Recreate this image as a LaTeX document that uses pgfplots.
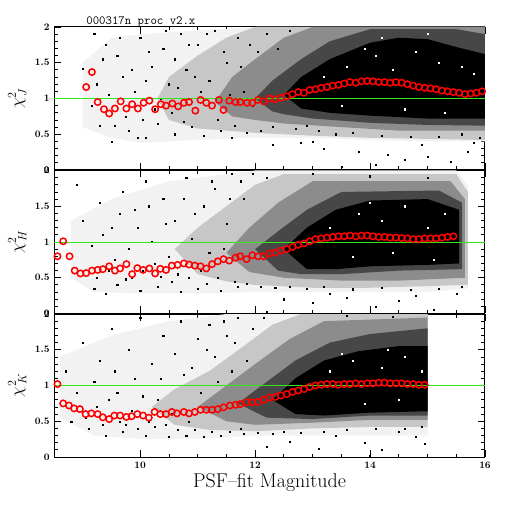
\documentclass[border=0pt]{standalone}
\usepackage{fontspec}
\usepackage{pgfplots}
\pgfplotsset{compat=1.18}
\definecolor{lgreen}{rgb}{0.2,0.9,0.1}
\pgfplotsset{
  panel/.style={
    scale only axis, width=431bp, height=143bp,
    xmin=8.5, xmax=16, ymin=0, ymax=2,
    axis line style={line width=1bp},
    tick style={black, line width=0.8bp},
    major tick length=7bp, minor tick length=3.5bp,
    tick align=inside,
    xtick={10,12,14,16}, minor x tick num=3,
    ytick={0,0.5,1,1.5,2}, minor y tick num=4,
    xtick pos=both, ytick pos=both,
    /pgf/number format/assume math mode=true,
    tick label style={font=\normalsize\bfseries},
    yticklabel style={xshift=-1bp},
    ylabel style={at={(axis description cs:-0.085,0.5)}, anchor=center, font=\LARGE},
    clip mode=individual,
  },
  t1/.style={fill=black!5, draw=none},
  t2/.style={fill=black!22, draw=none},
  t3/.style={fill=black!45, draw=none},
  t4/.style={fill=black!72, draw=none},
  t5/.style={fill=black, draw=none},
  dots/.style={only marks, mark=square*, mark size=0.55bp, black},
  wdots/.style={only marks, mark=square*, mark size=0.55bp, white},
  reds/.style={only marks, mark=o, mark size=3.2bp, red, line width=1.5bp},
  gline/.style={lgreen, line width=0.8bp},
}
\begin{document}
\begin{tikzpicture}
\path[use as bounding box] (0,0) rectangle (512bp,512bp);

% ---------------- top panel (J) ----------------
\begin{axis}[panel, at={(54bp,342bp)}, anchor=south west, xticklabels={}, ylabel={$\chi^2_{\,J}$}]
\addplot[t1] coordinates {(9.0,1.5)(9.5,1.85)(10,1.9)(11,1.95)(12,2.0)(16,2.0)(16,0.4)(15,0.4)(14,0.42)(13,0.45)(12,0.45)(11,0.42)(10,0.38)(9.5,0.45)(9.0,0.6)} --cycle;
\addplot[t2] coordinates {(10.3,1.0)(10.5,1.3)(11,1.6)(11.5,1.85)(12,2.0)(16,2.0)(16,0.42)(14,0.45)(13,0.48)(12,0.52)(11,0.58)(10.5,0.7)} --cycle;
\addplot[t3] coordinates {(11.3,0.95)(11.6,1.3)(12,1.55)(12.5,1.85)(13,2.0)(16,2.0)(16,0.55)(14.5,0.55)(13.5,0.6)(12.5,0.65)(12,0.7)(11.6,0.75)} --cycle;
\addplot[t4] coordinates {(12.0,1.0)(12.3,1.25)(12.8,1.55)(13.3,1.8)(14,1.97)(15.5,1.97)(16,1.9)(16,0.62)(15,0.63)(14,0.66)(13,0.72)(12.5,0.78)(12.3,0.82)} --cycle;
\addplot[t5] coordinates {(12.5,1.05)(12.8,1.3)(13.3,1.55)(14,1.78)(14.5,1.85)(15,1.83)(15.5,1.72)(16,1.62)(16,0.72)(15,0.72)(14,0.76)(13.3,0.8)(12.8,0.86)} --cycle;
\addplot[dots] coordinates {(9.0,1.42)(9.2,1.9)(9.4,1.75)(9.3,0.62)(9.5,0.4)(9.6,1.6)(9.7,1.3)(9.8,0.55)(9.9,1.1)(10.0,1.85)(10.1,0.45)(10.2,1.45)(10.3,0.65)(10.4,1.7)(10.5,1.2)(10.6,0.5)(10.7,1.9)(10.8,1.4)(10.9,0.6)(11.0,1.75)(11.1,0.48)(11.2,1.25)(11.3,1.95)(11.4,0.55)(11.5,1.5)(11.6,0.45)(11.7,1.85)(11.8,1.1)(9.45,1.05)(9.75,0.75)(10.05,0.7)(10.35,1.0)(10.65,1.15)(10.95,1.3)(9.15,0.9)(9.85,1.4)(10.55,0.8)
(9.25,1.2)(9.35,1.55)(9.55,0.62)(9.65,1.85)(9.95,0.45)(10.15,1.65)(10.25,0.85)(10.45,1.95)(10.75,0.68)(10.85,1.75)(11.05,1.1)(11.15,1.9)(11.35,0.7)(11.45,1.65)(11.55,1.05)(11.65,0.62)(11.75,1.45)(11.85,0.52)(11.9,1.75)(11.95,0.9)(12.05,1.65)(12.1,0.55)(12.2,1.9)(12.3,0.6)(12.4,1.7)(12.6,1.95)(12.7,0.58)(12.9,0.62)(13.1,0.55)(13.4,0.5)(13.7,0.52)(14.2,0.48)(14.7,0.46)(15.2,0.47)(15.6,0.5)(15.9,0.45)(10.6,1.55)(10.1,1.25)
(12.3,0.35)(13.2,0.3)(13.8,0.25)(14.3,0.22)(14.6,0.15)(15.0,0.18)(15.4,0.12)(13.5,0.05)(12.8,0.38)(15.7,0.25)(14.1,0.08)(13.0,0.4)(14.9,0.36)(15.8,0.38)};
\addplot[wdots] coordinates {(13.2,1.3)(13.6,1.45)(14.1,1.6)(14.4,1.4)(14.8,1.65)(15.2,1.5)(15.6,1.45)(13.9,1.7)(14.6,0.85)(15.3,0.8)(13.5,0.9)(15.8,1.35)(14.2,1.85)(15.0,1.9)};
\addplot[gline] coordinates {(8.5,1)(16,1)};
\addplot[reds] coordinates {(9.06,1.16)(9.16,1.37)(9.26,0.95)(9.37,0.85)(9.46,0.79)(9.56,0.86)(9.66,0.96)(9.76,0.86)(9.86,0.92)(9.96,0.86)(10.06,0.94)(10.16,0.97)(10.26,0.85)(10.36,0.92)(10.45,0.90)(10.56,0.93)(10.66,0.89)(10.76,0.94)(10.85,0.95)(10.96,0.83)(11.05,0.98)(11.15,0.94)(11.25,0.90)(11.37,0.98)(11.45,0.84)(11.55,0.97)(11.66,0.95)(11.74,0.95)(11.86,0.94)(11.95,0.94)(12.05,0.98)(12.15,0.96)(12.25,1.0)(12.35,0.99)(12.45,1.01)(12.55,1.03)(12.65,1.06)(12.75,1.09)(12.85,1.08)(12.95,1.12)(13.05,1.13)(13.15,1.15)(13.25,1.16)(13.35,1.18)(13.45,1.19)(13.55,1.21)(13.65,1.23)(13.75,1.22)(13.85,1.24)(13.95,1.245)(14.05,1.24)(14.15,1.23)(14.25,1.23)(14.35,1.22)(14.45,1.23)(14.55,1.22)(14.65,1.20)(14.75,1.18)(14.85,1.16)(14.95,1.15)(15.05,1.14)(15.15,1.13)(15.25,1.11)(15.35,1.10)(15.45,1.09)(15.55,1.08)(15.65,1.06)(15.75,1.07)(15.85,1.08)(15.95,1.10)};
\node[anchor=base west] at (axis description cs:0.067,1) [yshift=2bp] {\fontsize{12.5}{13}\selectfont\ttfamily 000317n proc v2.x};
\end{axis}

% ---------------- middle panel (H) ----------------
\begin{axis}[panel, at={(54bp,198.5bp)}, anchor=south west, xticklabels={}, ylabel={$\chi^2_{\,H}$}]
\addplot[t1] coordinates {(8.8,1.3)(9.5,1.6)(10.5,1.85)(11.5,1.95)(12,2.0)(15.5,2.0)(15.7,1.8)(15.7,0.35)(15,0.3)(14,0.3)(13,0.3)(12,0.3)(11,0.28)(10,0.28)(9.2,0.3)(8.8,0.5)} --cycle;
\addplot[t2] coordinates {(10.6,0.9)(11,1.2)(11.5,1.5)(12,1.8)(12.5,1.95)(15.5,1.95)(15.7,1.7)(15.7,0.4)(14,0.36)(13,0.36)(12,0.4)(11.5,0.45)(11,0.55)} --cycle;
\addplot[t3] coordinates {(11.5,0.85)(11.9,1.2)(12.4,1.55)(13,1.85)(15.4,1.85)(15.65,1.6)(15.65,0.5)(14.5,0.46)(13.5,0.46)(12.5,0.5)(11.9,0.58)} --cycle;
\addplot[t4] coordinates {(12.0,0.9)(12.4,1.15)(12.9,1.45)(13.5,1.7)(15.2,1.72)(15.6,1.55)(15.6,0.62)(14.5,0.6)(13.5,0.55)(12.8,0.55)(12.4,0.6)} --cycle;
\addplot[t5] coordinates {(12.5,0.9)(12.9,1.2)(13.4,1.45)(14,1.58)(15,1.6)(15.55,1.45)(15.55,0.7)(15,0.68)(14,0.66)(13.4,0.62)(12.9,0.62)} --cycle;
\addplot[dots] coordinates {(8.9,1.8)(9.0,1.3)(9.2,0.35)(9.3,1.55)(9.4,0.28)(9.5,1.2)(9.6,0.4)(9.7,1.7)(9.8,0.9)(9.9,1.45)(10.0,0.32)(10.1,1.85)(10.2,1.0)(10.3,0.38)(10.4,1.6)(10.5,0.8)(10.6,1.3)(10.7,0.3)(10.8,1.9)(10.9,1.05)(11.0,0.35)(11.1,1.5)(11.2,0.85)(11.3,1.75)(11.4,0.32)(11.5,1.25)(11.6,1.95)(11.7,0.38)(11.8,1.6)(9.15,0.95)(9.55,0.75)(9.85,0.5)(10.25,0.7)(10.65,0.55)(11.05,0.6)(11.45,0.9)
(9.25,0.5)(9.35,1.1)(9.45,0.6)(9.65,1.4)(9.75,0.48)(9.95,1.2)(10.05,0.6)(10.15,1.5)(10.35,0.52)(10.45,1.25)(10.55,0.45)(10.75,1.6)(10.85,0.5)(10.95,1.4)(11.15,0.42)(11.25,1.85)(11.35,0.5)(11.55,1.6)(11.65,0.45)(11.75,1.85)(11.85,0.42)(11.95,1.95)(12.1,0.38)(12.2,1.9)(12.35,0.36)(12.6,0.38)(12.9,0.35)(13.2,0.38)(13.7,0.34)(14.2,0.36)(14.7,0.33)(15.2,0.35)(15.6,0.38)(13.0,1.95)(14.0,1.92)(15.0,1.9)
(12.5,0.2)(13.0,0.15)(13.6,0.22)(14.1,0.1)(14.5,0.18)(15.1,0.05)(13.3,0.28)(12.2,0.02)(14.8,0.25)(15.5,0.28)};
\addplot[wdots] coordinates {(13.3,1.2)(13.8,1.4)(14.2,1.3)(14.6,1.5)(15.0,1.2)(15.3,1.4)(13.7,0.8)(14.4,0.85)(15.1,0.75)(14.0,1.55)};
\addplot[gline] coordinates {(8.5,1)(16,1)};
\addplot[reds] coordinates {(8.56,0.80)(8.66,1.01)(8.77,0.80)(8.86,0.60)(8.96,0.56)(9.06,0.565)(9.16,0.60)(9.26,0.61)(9.35,0.62)(9.46,0.66)(9.56,0.60)(9.65,0.63)(9.76,0.69)(9.86,0.55)(9.95,0.635)(10.05,0.61)(10.16,0.63)(10.26,0.56)(10.35,0.625)(10.45,0.61)(10.55,0.67)(10.65,0.68)(10.76,0.70)(10.85,0.685)(10.95,0.67)(11.05,0.66)(11.15,0.63)(11.25,0.69)(11.35,0.73)(11.45,0.76)(11.55,0.74)(11.66,0.78)(11.74,0.80)(11.85,0.76)(11.95,0.815)(12.05,0.80)(12.15,0.80)(12.25,0.84)(12.35,0.85)(12.45,0.88)(12.55,0.90)(12.65,0.93)(12.75,0.96)(12.85,0.98)(12.95,1.01)(13.05,1.04)(13.15,1.05)(13.25,1.06)(13.35,1.07)(13.45,1.08)(13.55,1.08)(13.65,1.09)(13.75,1.08)(13.85,1.09)(13.95,1.09)(14.05,1.08)(14.15,1.07)(14.25,1.07)(14.35,1.06)(14.45,1.06)(14.55,1.055)(14.65,1.05)(14.75,1.04)(14.85,1.04)(14.95,1.05)(15.05,1.05)(15.15,1.05)(15.25,1.06)(15.35,1.07)(15.45,1.08)};
\end{axis}

% ---------------- bottom panel (K) ----------------
\begin{axis}[panel, at={(54bp,55bp)}, anchor=south west, ylabel={$\chi^2_{\,K}$},
  xticklabel style={yshift=-1bp},
  xlabel={PSF--fit Magnitude},
  xlabel style={font=\fontsize{20}{22}\selectfont, yshift=1bp}]
\addplot[t1] coordinates {(8.6,1.4)(9.5,1.7)(10.5,1.9)(11.5,2.0)(15.0,2.0)(15.0,0.3)(14,0.3)(13,0.3)(12,0.3)(11,0.25)(10,0.25)(9.2,0.3)(8.6,0.55)} --cycle;
\addplot[t2] coordinates {(10.2,0.7)(10.6,0.95)(11.2,1.2)(11.8,1.55)(12.3,1.85)(12.8,2.0)(15,2.0)(15,0.42)(14,0.42)(13,0.4)(12,0.36)(11.2,0.38)(10.6,0.45)} --cycle;
\addplot[t3] coordinates {(11.0,0.7)(11.5,1.0)(12,1.3)(12.6,1.65)(13.2,1.9)(15,1.95)(15,0.52)(14,0.52)(13,0.48)(12,0.45)(11.5,0.5)} --cycle;
\addplot[t4] coordinates {(11.7,0.75)(12.2,1.05)(12.7,1.35)(13.3,1.6)(14,1.72)(15,1.8)(15,0.58)(14,0.58)(13,0.53)(12.2,0.55)} --cycle;
\addplot[t5] coordinates {(12.3,0.8)(12.7,1.1)(13.2,1.35)(13.8,1.48)(14.5,1.55)(15,1.55)(15,0.64)(14,0.62)(13.2,0.58)(12.7,0.6)} --cycle;
\addplot[dots] coordinates {(8.7,1.2)(8.8,0.5)(9.0,1.6)(9.1,0.4)(9.2,1.05)(9.3,1.35)(9.4,0.3)(9.5,1.8)(9.6,0.9)(9.7,0.35)(9.8,1.5)(9.9,1.1)(10.0,1.95)(10.1,0.3)(10.2,1.3)(10.3,0.8)(10.4,1.7)(10.5,0.28)(10.6,1.45)(10.7,1.9)(10.8,0.3)(10.9,1.25)(11.0,1.65)(11.1,0.28)(11.2,1.85)(11.3,1.4)(11.4,0.3)(11.5,1.7)(11.6,1.2)(11.7,1.95)(11.8,0.32)(9.45,0.8)(9.75,0.45)(10.15,0.5)(10.45,0.45)(10.85,0.5)
(8.9,0.9)(9.05,0.55)(9.25,0.7)(9.35,0.45)(9.55,1.2)(9.65,0.5)(9.85,0.65)(9.95,0.4)(10.05,0.85)(10.25,0.42)(10.35,1.1)(10.55,0.6)(10.65,0.38)(10.75,1.15)(10.95,0.38)(11.05,0.9)(11.15,1.5)(11.25,0.35)(11.35,1.05)(11.45,1.9)(11.55,0.36)(11.65,1.6)(11.75,0.4)(11.85,1.35)(11.95,1.8)(12.05,0.34)(12.15,1.95)(12.3,0.33)(12.5,0.36)(12.8,0.34)(13.2,0.36)(13.6,0.38)(14.1,0.4)(14.6,0.4)(14.9,0.42)(13.6,1.98)(14.4,1.96)
(12.6,0.22)(13.1,0.12)(13.4,0.3)(13.9,0.2)(14.2,0.1)(14.5,0.35)(14.8,0.28)(12.2,0.15)(14.0,0.02)(14.95,0.18)};
\addplot[wdots] coordinates {(13.3,1.2)(13.7,1.35)(14.2,1.25)(14.6,1.4)(14.9,1.2)(13.9,0.75)(14.5,0.8)(13.5,1.45)(14.3,1.5)};
\addplot[gline] coordinates {(8.5,1)(16,1)};
\addplot[reds] coordinates {(8.56,1.02)(8.66,0.75)(8.76,0.72)(8.85,0.68)(8.95,0.67)(9.05,0.60)(9.15,0.61)(9.26,0.60)(9.35,0.555)(9.46,0.53)(9.55,0.58)(9.65,0.58)(9.76,0.56)(9.85,0.57)(9.95,0.60)(10.05,0.58)(10.15,0.55)(10.25,0.63)(10.35,0.60)(10.45,0.60)(10.55,0.63)(10.64,0.61)(10.76,0.63)(10.85,0.61)(10.95,0.63)(11.05,0.66)(11.15,0.66)(11.25,0.66)(11.35,0.67)(11.45,0.695)(11.56,0.72)(11.66,0.73)(11.74,0.74)(11.85,0.765)(11.95,0.765)(12.05,0.77)(12.15,0.80)(12.25,0.83)(12.35,0.84)(12.45,0.86)(12.55,0.88)(12.65,0.91)(12.75,0.93)(12.85,0.95)(12.95,0.98)(13.05,1.00)(13.15,1.01)(13.25,1.02)(13.35,1.02)(13.45,1.01)(13.55,1.02)(13.65,1.02)(13.75,1.03)(13.85,1.02)(13.95,1.03)(14.05,1.03)(14.15,1.04)(14.25,1.04)(14.35,1.03)(14.45,1.03)(14.55,1.03)(14.65,1.02)(14.75,1.02)(14.85,1.01)(14.95,1.01)};
\end{axis}
\end{tikzpicture}
\end{document}
